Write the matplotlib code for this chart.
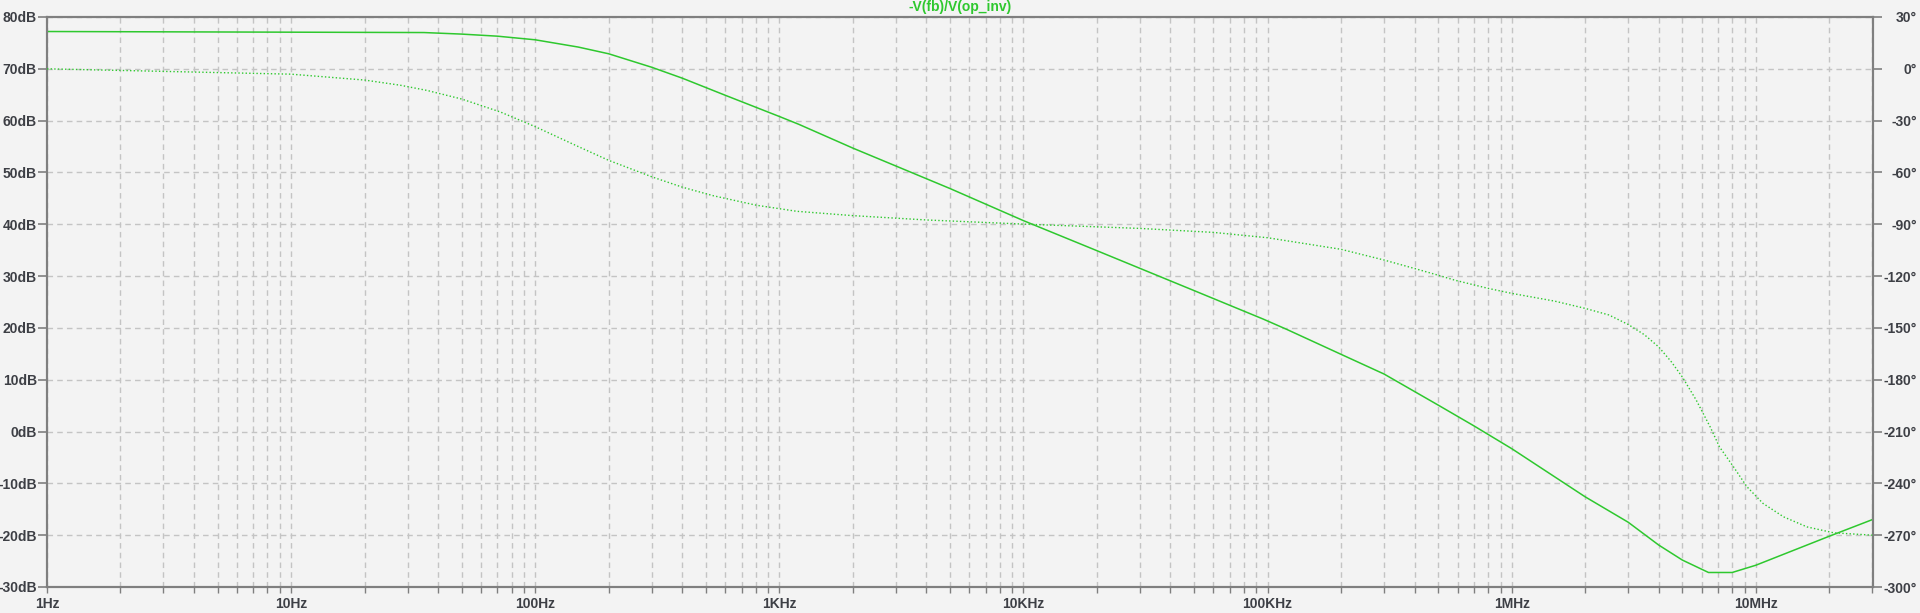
import matplotlib
matplotlib.use("Agg")
import matplotlib.pyplot as plt
from matplotlib.ticker import FixedLocator, NullFormatter, NullLocator, FixedFormatter

# ---- data ----
mag_freq = [1, 35, 50, 70, 100, 150, 200, 300, 400, 600, 1e3, 1.2e3, 2e3, 5e3, 1e4, 2e4, 5e4,
            9.6e4, 1.2e5, 2e5, 3e5, 5e5, 7e5, 1e6, 2e6, 3e6, 4e6, 5e6, 6.4e6, 8e6, 1e7, 2e7, 3e7]
mag_db = [77.2, 77.0, 76.7, 76.3, 75.6, 74.2, 72.9, 70.3, 68.2, 64.9, 60.8, 59.3, 54.7, 46.9,
          40.7, 34.9, 27.2, 21.7, 19.7, 14.9, 11.1, 5.1, 1.1, -3.3, -12.6, -17.5, -21.9, -24.8,
          -27.2, -27.2, -25.8, -20.2, -17.0]

ph_freq = [1, 10, 20, 28, 36, 50, 72, 100, 150, 200, 300, 400, 537, 807, 1.18e3, 2e3, 4e3, 1e4,
           3e4, 6e4, 1e5, 2e5, 3e5, 4e5, 5e5, 5.86e5, 8e5, 1e6, 1.5e6, 2e6, 2.5e6, 3e6, 3.5e6,
           4e6, 4.5e6, 5e6, 5.7e6, 6.5e6, 7.1e6, 8.1e6, 9.2e6, 1.07e7, 1.3e7, 1.62e7, 2.08e7, 3e7]
ph_deg = [0, -3.1, -6.5, -9.5, -12.5, -17.5, -25.0, -33.5, -45.0, -53.0, -62.5, -68.5, -73.5,
          -79.0, -82.5, -85.0, -87.5, -89.9, -92.4, -94.7, -97.8, -104.5, -110.7, -115.6,
          -119.5, -122.4, -127.1, -130.0, -134.5, -138.7, -142.5, -148.0, -154.0, -161.0,
          -169.5, -178.4, -191.8, -207.3, -218.9, -230.4, -242.0, -251.6, -259.4, -265.2,
          -268.6, -270.0]

x_major = [1, 10, 100, 1e3, 1e4, 1e5, 1e6, 1e7]
x_labels = ["1Hz", "10Hz", "100Hz", "1KHz", "10KHz", "100KHz", "1MHz", "10MHz"]
y_ticks = list(range(-30, 81, 10))
y_labels = [f"{v}dB" for v in y_ticks]
p_ticks = list(range(-300, 31, 30))
p_labels = [f"{v}°" for v in p_ticks]
title = "-V(fb)/V(op_inv)"

# ---- styling ----
BG = "#f3f3f3"
GRID = "#c4c4c4"
SPINE = "#7f7f7f"
TXT = "#3d3f45"
GREEN = "#2ec82e"
FS = 10
plt.rcParams['font.family'] = ['Liberation Sans', 'DejaVu Sans']

fig = plt.figure(figsize=(19.2, 6.13), dpi=100, facecolor=BG)
ax = fig.add_axes([47 / 1920, 1 - 587 / 613, (1873 - 47) / 1920, (587 - 17) / 613])
ax.set_facecolor(BG)
ax.semilogx(mag_freq, mag_db, color=GREEN, lw=1.1, zorder=3)

ax2 = ax.twinx()
ax2.semilogx(ph_freq, ph_deg, color=GREEN, lw=1.0, ls=(0, (1, 1.6)), zorder=3)

ax.set_xlim(1, 3.02e7)
ax.set_ylim(-30, 80)
ax2.set_ylim(-300, 30)

minors = []
for d in range(0, 8):
    for m in range(2, 10):
        v = m * 10 ** d
        if v < 3.02e7:
            minors.append(v)
ax.xaxis.set_major_locator(FixedLocator(x_major))
ax.xaxis.set_major_formatter(FixedFormatter(x_labels))
ax.xaxis.set_minor_locator(FixedLocator(minors))
ax.xaxis.set_minor_formatter(NullFormatter())
ax.set_yticks(y_ticks)
ax.set_yticklabels(y_labels)
ax.yaxis.set_minor_locator(NullLocator())

ax.grid(True, which='both', axis='x', color=GRID, lw=1.0, ls=(0, (4, 3)))
ax.grid(True, which='major', axis='y', color=GRID, lw=1.0, ls=(0, (4, 3)))
ax.set_axisbelow(True)

for a in (ax, ax2):
    for s in a.spines.values():
        s.set_color(SPINE)
        s.set_linewidth(1.5)

ax.tick_params(axis='x', which='both', direction='out', length=4, width=1, color=SPINE,
               pad=3.5, labelsize=FS, labelcolor=TXT)
ax.tick_params(axis='y', which='major', direction='out', length=6.5, width=1.2, color=SPINE,
               pad=0.8, labelsize=FS, labelcolor=TXT)
for lab in ax.get_xticklabels() + ax.get_yticklabels():
    lab.set_fontweight('bold')

ax2.set_yticks(p_ticks)
ax2.set_yticklabels(p_labels)
ax2.yaxis.set_minor_locator(NullLocator())
ax2.tick_params(axis='y', which='major', direction='out', length=6.5, width=1.2, color=SPINE,
                pad=25.2, labelsize=FS, labelcolor=TXT)
for lab in ax2.get_yticklabels():
    lab.set_fontweight('bold')
    lab.set_horizontalalignment('right')

fig.text(0.5, 1 - 7.5 / 613, title, color=GREEN, fontsize=FS, fontweight='bold',
         ha='center', va='center')

fig.savefig("out.png", dpi=100, facecolor=BG)
